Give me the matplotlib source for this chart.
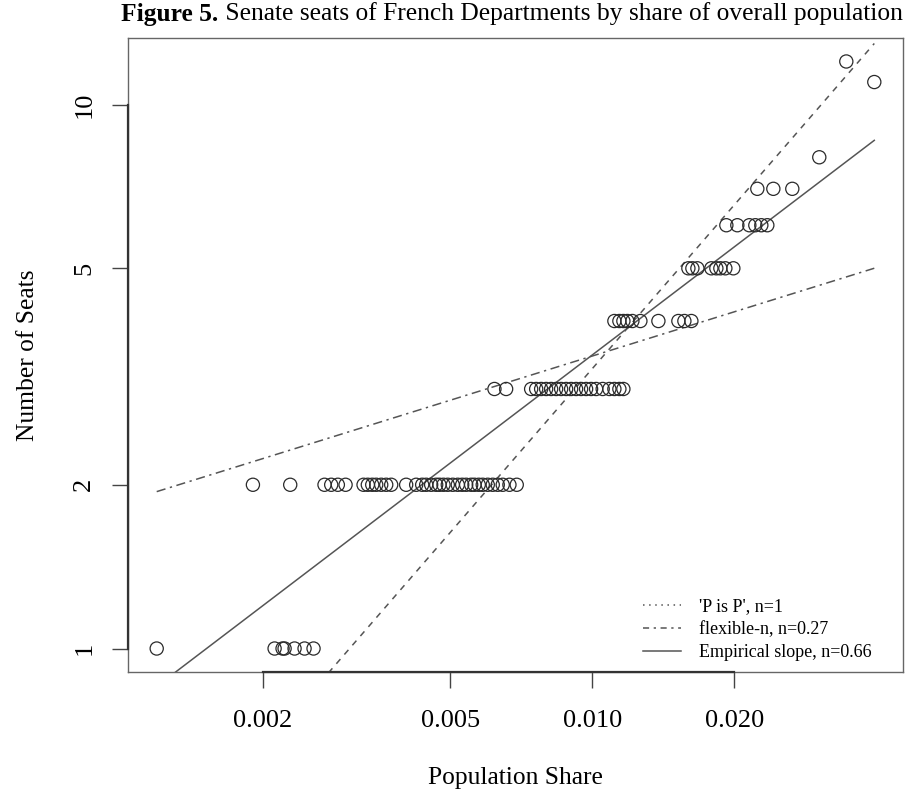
import numpy as np
import matplotlib
matplotlib.use("Agg")
import matplotlib.pyplot as plt
from matplotlib.lines import Line2D

plt.rcParams['font.family'] = ['Liberation Serif', 'DejaVu Serif']

# ---- data: population share of each department, grouped by number of seats ----
seats_1 = [0.001193, 0.002121, 0.002205, 0.002227, 0.002338, 0.002455, 0.002565]
seats_2 = [0.001908, 0.002289, 0.002706, 0.002796, 0.002888, 0.002999, 0.003274,
           0.003343, 0.003416, 0.003483, 0.003569, 0.003657, 0.003747, 0.004031,
           0.004233, 0.004359, 0.004445, 0.004554, 0.004667, 0.004743, 0.004836,
           0.004939, 0.005061, 0.005186, 0.005298, 0.005403, 0.005536, 0.005626,
           0.005745, 0.005858, 0.006003, 0.006151, 0.006303, 0.006458, 0.006673,
           0.006915]
seats_3 = [0.006202, 0.006566, 0.007419, 0.007603, 0.007790, 0.007982, 0.008179,
           0.008381, 0.008588, 0.008800, 0.009017, 0.009239, 0.009467, 0.009701,
           0.009940, 0.010186, 0.010519, 0.010869, 0.011137, 0.011412, 0.011637]
seats_4 = [0.011137, 0.011412, 0.011637, 0.011866, 0.012159, 0.012644, 0.013806,
           0.015220, 0.015672, 0.016217]
seats_5 = [0.015981, 0.016297, 0.016699, 0.017879, 0.018320, 0.018681, 0.019142,
           0.019903]
seats_6 = [0.019235, 0.020295, 0.021518, 0.022157, 0.022815, 0.023493]
seats_7 = [0.022374, 0.024194, 0.026539]
seats_8 = [0.030276]
seats_11 = [0.039600]
seats_12 = [0.034542]

groups = {1: seats_1, 2: seats_2, 3: seats_3, 4: seats_4, 5: seats_5,
          6: seats_6, 7: seats_7, 8: seats_8, 11: seats_11, 12: seats_12}

# fitted power laws: seats = coef * share ** n
fit_labels = ["'P is P', n=1", "flexible-n, n=0.27", "Empirical slope, n=0.66"]
fit_n = [1.0, 0.27, 0.66]
fit_coef = [327.0, 11.96, 72.4]

xtick_vals = [0.002, 0.005, 0.010, 0.020]
xtick_labels = ["0.002", "0.005", "0.010", "0.020"]
ytick_vals = [1, 2, 5, 10]
ytick_labels = ["1", "2", "5", "10"]

title_bold = "Figure 5."
title_rest = " Senate seats of French Departments by share of overall population"
xlabel = "Population Share"
ylabel = "Number of Seats"

# ---- assemble ----
share = np.concatenate([np.asarray(v, float) for v in groups.values()])
seats = np.concatenate([np.full(len(v), k, float) for k, v in groups.items()])

W, H, DPI = 917, 792, 100
fig = plt.figure(figsize=(W / DPI, H / DPI), dpi=DPI)
ax = fig.add_axes([128 / W, 1 - 672 / H, (903 - 128) / W, (672 - 38) / H])
ax.set_xscale('log')
ax.set_yscale('log')

# R-style 4% padding in log space
lx = np.log10(share)
ly = np.log10(seats)
px = 0.04 * (lx.max() - lx.min())
py = 0.04 * (ly.max() - ly.min())
ax.set_xlim(10 ** (lx.min() - px), 10 ** (lx.max() + px))
ax.set_ylim(10 ** (ly.min() - py), 10 ** (ly.max() + py))

line_col = '#555555'
ax.scatter(share, seats, s=90, facecolors='none', edgecolors='#2a2a2a',
           linewidths=0.9, zorder=3)

xs = np.logspace(lx.min(), lx.max(), 200)
styles = [(0, (4, 4)), (0, (6, 3, 1.5, 3)), '-']
for n, c, ls in zip(fit_n, fit_coef, styles):
    ax.plot(xs, c * xs ** n, color=line_col, lw=1.1, linestyle=ls, zorder=2)

# legend (dotted sample for first entry, like the reference)
handles = [Line2D([], [], color=line_col, lw=1.1, linestyle=(0, (1, 3))),
           Line2D([], [], color=line_col, lw=1.1, linestyle=(0, (4, 3, 1.5, 3))),
           Line2D([], [], color=line_col, lw=1.1, linestyle='-')]
ax.legend(handles, fit_labels, loc='lower right', frameon=False, fontsize=13,
          handlelength=2.1, handletextpad=1.0, labelspacing=0.32,
          borderpad=0.0, borderaxespad=0.0,
          bbox_to_anchor=(872 / W, 1 - 661 / H),
          bbox_transform=fig.transFigure)

ax.minorticks_off()
ax.set_xticks(xtick_vals)
ax.set_xticklabels(xtick_labels)
ax.set_yticks(ytick_vals)
ax.set_yticklabels(ytick_labels, rotation=90, va='center')
ax.tick_params(axis='both', length=11.5, width=1.0, color='#444444',
               labelsize=19)
ax.tick_params(axis='x', pad=16)
ax.tick_params(axis='y', pad=12)
for sp in ax.spines.values():
    sp.set_color('#666666')
    sp.set_linewidth(1.0)

# R-style axis lines spanning first to last tick
y0 = ax.get_ylim()[0]
x0 = ax.get_xlim()[0]
ax.plot([xtick_vals[0], xtick_vals[-1]], [y0, y0], color='#333333', lw=1.6,
        clip_on=False, zorder=4)
ax.plot([x0, x0], [ytick_vals[0], ytick_vals[-1]], color='#333333', lw=1.6,
        clip_on=False, zorder=4)

fig.text(515 / W, 1 - 778 / H, xlabel, ha='center', va='center', fontsize=18.4)
fig.text(28 / W, 1 - 355 / H, ylabel, ha='center', va='center', rotation=90,
         fontsize=18.4)

# title: bold prefix + regular remainder, centred as a whole
renderer = fig.canvas.get_renderer()
t1 = fig.text(0, 1 - 14 / H, title_bold, fontsize=18.4, fontweight='bold',
              va='center', ha='left')
t2 = fig.text(0, 1 - 14 / H, title_rest, fontsize=18.4, va='center', ha='left')
w1 = t1.get_window_extent(renderer).width
w2 = t2.get_window_extent(renderer).width
cx = 512.0
start = cx - (w1 + w2) / 2
t1.set_x(start / W)
t2.set_x((start + w1) / W)

fig.savefig('out.png', dpi=DPI)
